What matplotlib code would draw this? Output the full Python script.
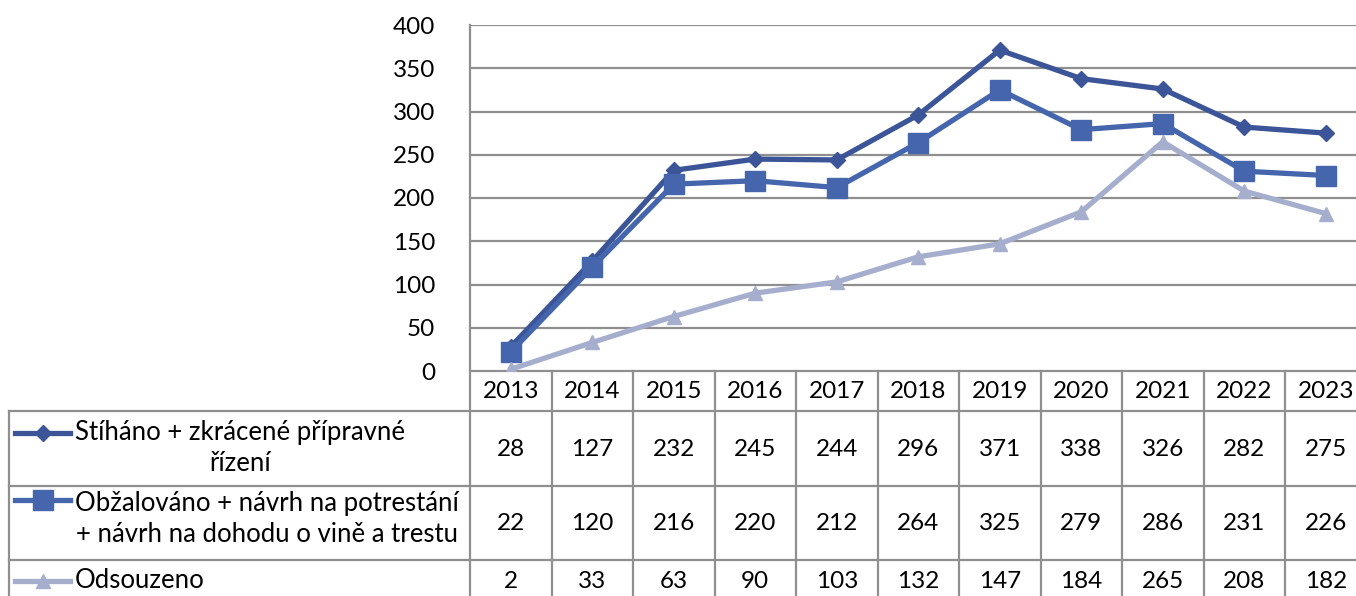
import matplotlib
matplotlib.use("Agg")
import matplotlib.pyplot as plt
from matplotlib.transforms import blended_transform_factory

years = ["2013", "2014", "2015", "2016", "2017", "2018", "2019", "2020", "2021", "2022", "2023"]
stihano = [28, 127, 232, 245, 244, 296, 371, 338, 326, 282, 275]
obzalovano = [22, 120, 216, 220, 212, 264, 325, 279, 286, 231, 226]
odsouzeno = [2, 33, 63, 90, 103, 132, 147, 184, 265, 208, 182]
labels = ["Stíháno + zkrácené přípravné\nřízení",
          "Obžalováno + návrh na potrestání\n+ návrh na dohodu o vině a trestu",
          "Odsouzeno"]
yticks = [0, 50, 100, 150, 200, 250, 300, 350, 400]

plt.rcParams['font.family'] = ['Lato', 'DejaVu Sans']
W, H = 1356, 596
fig = plt.figure(figsize=(W / 100, H / 100), dpi=100)

# overlay axes in pixel coords for the table
tab = fig.add_axes([0, 0, 1, 1])
tab.set_xlim(0, W)
tab.set_ylim(H, 0)
tab.axis('off')

left_px, right_px, top_px, zero_px = 470, 1366.5, 25, 371
ax = fig.add_axes([left_px / W, (H - zero_px) / H, (right_px - left_px) / W, (zero_px - top_px) / H])
ax.set_zorder(2)
ax.patch.set_alpha(0)

grid_c = '#8F8F8F'
c1, c2, c3 = '#3B5598', '#4565AD', '#A6AECE'
x = list(range(len(years)))
fs_num = 17.5
fs_lab = 18.5

ax.set_xlim(-0.5, len(years) - 0.5)
ax.set_ylim(0, 400)
ax.set_yticks(yticks)
ax.set_yticklabels([str(v) for v in yticks], fontsize=fs_num)
ax.tick_params(axis='y', length=0, pad=25)
ax.set_xticks([])
for s in ax.spines.values():
    s.set_visible(False)
for v in yticks[1:]:
    ax.axhline(v, color=grid_c, lw=1.6, zorder=0)

series = [(stihano, c1, 'D', 8), (obzalovano, c2, 's', 14), (odsouzeno, c3, '^', 10)]
for vals, c, m, ms in series:
    ax.plot(x, vals, color=c, lw=3.8, marker=m, ms=ms, zorder=3, solid_joinstyle='round')

# table lines
lw_t = 1.6
bt = blended_transform_factory(ax.transData, tab.transData)
row_y = [371, 411, 486, 560, 640]
tab.plot([left_px, left_px], [top_px, H], color=grid_c, lw=lw_t, zorder=1)
tab.plot([left_px, W], [371, 371], color=grid_c, lw=lw_t)
for yy in row_y[1:4]:
    tab.plot([9, W], [yy, yy], color=grid_c, lw=lw_t)
tab.plot([9, 9], [411, H], color=grid_c, lw=lw_t)
for i in range(1, len(years)):
    tab.plot([i - 0.5, i - 0.5], [371, H], color=grid_c, lw=lw_t, transform=bt)

# header years
for i, yr in enumerate(years):
    tab.text(i, 392, yr, transform=bt, ha='center', va='center', fontsize=fs_num)

# values rows
row_centers = [449, 523, 581]
for (vals, c, m, ms), yc in zip(series, row_centers):
    for i, v in enumerate(vals):
        tab.text(i, yc, str(v), transform=bt, ha='center', va='center', fontsize=fs_num)

# legend keys and labels
key_y = [433, 500, 581]
text_y = [448, 519, 581]
for (vals, c, m, ms), ky, ty, lab in zip(series, key_y, text_y, labels):
    tab.plot([15, 70], [ky, ky], color=c, lw=3.8)
    tab.plot([42.5], [ky], color=c, marker=m, ms=ms, lw=0)
    tab.text(75, ty, lab, ha='left', va='center', fontsize=fs_lab, multialignment='center', linespacing=1.3)

fig.savefig('out.png', dpi=100)
